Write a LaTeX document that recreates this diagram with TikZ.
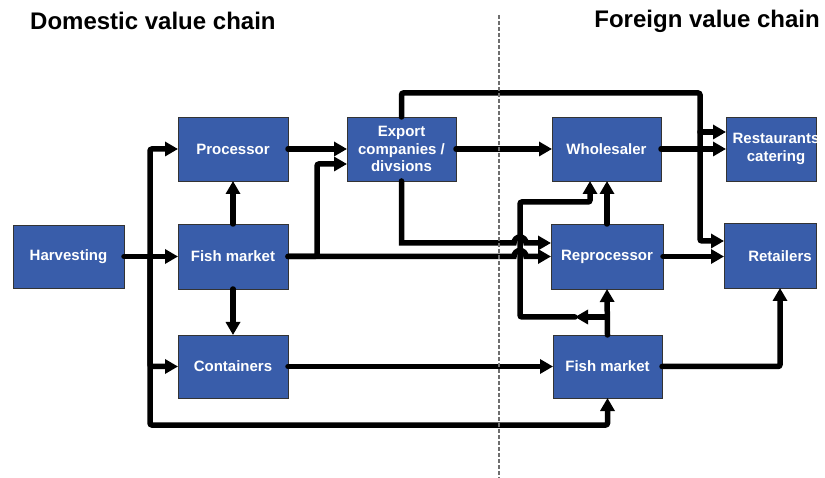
\documentclass[tikz,border=0pt]{standalone}
\usepackage{fontspec}
\setmainfont{Liberation Sans}
\usetikzlibrary{arrows.meta,calc}
\definecolor{boxblue}{RGB}{57,93,170}
\definecolor{divgray}{RGB}{110,110,110}
\begin{document}
\begin{tikzpicture}[x=1pt,y=-1pt,
  box/.style={draw=black!80, line width=0.8pt, fill=boxblue, text=white,
    font=\bfseries\fontsize{15}{17.5}\selectfont, align=center, inner sep=0pt, outer sep=0pt},
  lbl/.style={text=white, font=\bfseries\fontsize{15}{17.5}\selectfont, align=center, inner sep=0pt},
  ttl/.style={font=\bfseries\fontsize{24}{28}\selectfont, inner sep=0pt},
  ar/.style={line width=5.5pt, -{Triangle[length=13pt,width=14pt]}, line cap=round, rounded corners=2pt},
  divider/.style={draw=divgray, line width=2pt, dash pattern=on 4pt off 2pt}]
\useasboundingbox (0,0) rectangle (825,478);

% titles
\node[ttl, anchor=west] (t1) at (30,21) {Domestic value chain};
\node[ttl, anchor=east] (t2) at (820,21) {Foreign value chain};

% boxes
\node[box, minimum width=111pt, minimum height=63pt] (harv) at (68.5,256.5) {Harvesting};
\node[box, minimum width=110pt, minimum height=64pt] (proc) at (233,149) {Processor};
\node[box, minimum width=110pt, minimum height=65pt] (fm1) at (233,256.5) {Fish market};
\node[box, minimum width=110pt, minimum height=63pt] (cont) at (233,366.5) {Containers};
\node[box, minimum width=109pt, minimum height=64pt] (exp) at (401.5,149) {Export\\companies /\\divsions};
\node[box, minimum width=109pt, minimum height=64pt] (whole) at (606.5,149) {Wholesaler};
\node[box, minimum width=112pt, minimum height=65pt] (repro) at (607,256.5) {Reprocessor};
\node[box, minimum width=109pt, minimum height=63pt] (fm2) at (607.5,366.5) {Fish market};
\node[box, minimum width=90pt, minimum height=64pt] (rest) at (771,149) {};
\node[box, minimum width=92pt, minimum height=65pt] (ret) at (770,255.5) {};
\node[lbl] (restl) at (776,149) {Restaurants\\catering};
\node[lbl] (retl) at (780,256) {Retailers};

% helper coordinates
\coordinate (j) at (150,256.5);
\coordinate (lo) at (150,425);
\coordinate (tp) at (700,93);
\coordinate (k) at (607,317);
\coordinate (ka) at (575,317);
\coordinate (kb) at (520,317);
\coordinate (kc) at (520,202);
\coordinate (kd) at (590,202);
\coordinate (e1) at (317,256.5);
\coordinate (h1) at (514,256.5);
\coordinate (h2) at (514,243);
\coordinate (eb) at (401.5,243);
\coordinate (r1) at ([yshift=14.5pt]ret.west);
\coordinate (r2) at ([yshift=17pt]rest.west);

% connectors
\draw[ar] (harv.east) -- (fm1.west);
\draw[ar] (j) |- (proc.west);
\draw[ar] (j) |- (cont.west);
\draw[ar] (j) -- (lo) -| (fm2.south);
\draw[ar] (fm1.north) -- (proc.south);
\draw[ar] (fm1.south) -- (cont.north);
\draw[ar] (proc.east) -- (exp.west);
\draw[ar] (fm1.east) -- (e1) |- ([yshift=-15pt]exp.west);
\draw[ar] (exp.east) -- (whole.west);
\draw[ar] (exp.north) |- (tp) |- (r1);
\draw[ar] (tp |- r2) -- (r2);
\draw[ar] (whole.east) -- (rest.west);
\draw[ar] (k) -- (ka);
\draw[ar] (ka) -- (kb) -- (kc) -- (kd) -- (kd |- whole.south);
\draw[ar, sharp corners] (fm1.east) -- (h1) arc[start angle=180, end angle=0, radius=6pt] -- (fm1.east -| repro.west);
\draw[ar, sharp corners] (exp.south) -- (eb) -- (h2) arc[start angle=180, end angle=0, radius=6pt] -- (h2 -| repro.west);
\draw[ar] (repro.east) -- (repro.east -| ret.west);
\draw[ar] (repro.north) -- (repro.north |- whole.south);
\draw[ar] (fm2.north) -- (repro.south);
\draw[ar] (cont.east) -- (cont.east -| fm2.west);
\draw[ar] (fm2.east) -| ([xshift=10pt]ret.south);

% divider
\coordinate (d1) at (499,15);
\coordinate (d2) at (499,478);
\draw[divider] (d1) -- (d2);
\end{tikzpicture}
\end{document}
